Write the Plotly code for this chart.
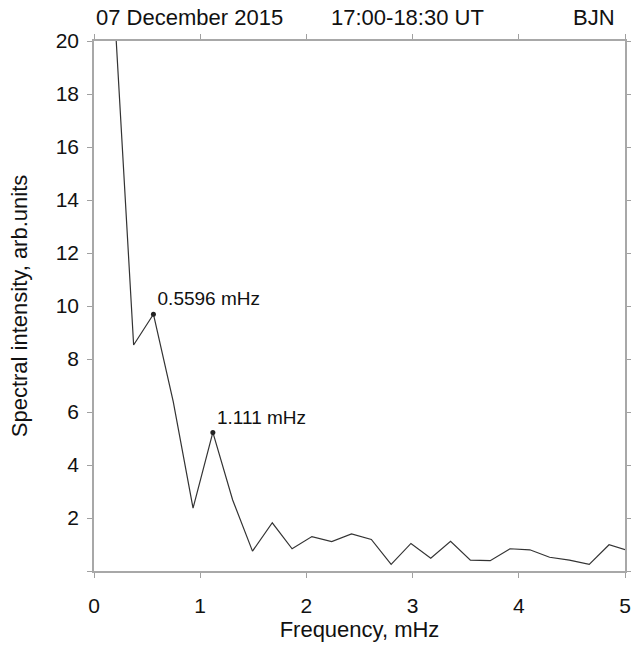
import plotly.graph_objects as go

# Data
step = 0.18653
spectral = [21.6, 8.53, 9.69, 6.39, 2.37, 5.23, 2.68, 0.75, 1.82, 0.84, 1.30, 1.11,
            1.40, 1.19, 0.25, 1.04, 0.48, 1.12, 0.41, 0.39, 0.84, 0.80, 0.52, 0.41,
            0.25, 0.99, 0.76]
freq = [round((i + 1) * step, 5) for i in range(len(spectral))]
peak_freq = [0.5596, 1.1192]
peak_val = [9.69, 5.23]
peak_labels = ["0.5596 mHz", "1.111 mHz"]
x_ticks = [0, 1, 2, 3, 4, 5]
y_ticks = [0, 2, 4, 6, 8, 10, 12, 14, 16, 18, 20]
y_ticktext = ["", "2", "4", "6", "8", "10", "12", "14", "16", "18", "20"]

FONT = "Liberation Sans, Arial, sans-serif"
TXT = "#111111"

fig = go.Figure()
fig.add_trace(go.Scatter(x=freq, y=spectral, mode="lines",
                         line=dict(color="#333333", width=1.2), showlegend=False,
                         cliponaxis=True))
fig.add_trace(go.Scatter(x=peak_freq, y=peak_val, mode="markers+text",
                         marker=dict(color="#222222", size=5),
                         text=peak_labels, textposition="top right",
                         textfont=dict(family=FONT, size=19, color=TXT),
                         showlegend=False, cliponaxis=False))

axis_common = dict(showline=True, linecolor="#a8a8a8", linewidth=1.5, mirror="ticks",
                   ticks="outside", ticklen=5, tickcolor="#a0a0a0", tickwidth=1,
                   showgrid=False, zeroline=False, automargin=False,
                   tickfont=dict(family=FONT, size=21, color=TXT))

fig.update_xaxes(range=[0, 5], tickvals=x_ticks, ticklabelstandoff=10,
                 title=dict(text="Frequency, mHz", font=dict(family=FONT, size=22, color=TXT), standoff=6),
                 **axis_common)
fig.update_yaxes(range=[0, 20], tickvals=y_ticks, ticktext=y_ticktext, ticklabelstandoff=4,
                 title=dict(text="Spectral intensity, arb.units", font=dict(family=FONT, size=22, color=TXT), standoff=22),
                 **axis_common)

for txt, xp, anchor in [("07 December 2015", 0.0, "left"),
                        ("17:00-18:30 UT", 0.442, "left"),
                        ("BJN", 0.985, "right")]:
    fig.add_annotation(text=txt, x=xp, xref="paper", y=1.0, yref="paper",
                       yshift=24, xanchor=anchor, yanchor="middle", showarrow=False,
                       font=dict(family=FONT, size=22, color=TXT))

fig.update_layout(width=631, height=650, plot_bgcolor="white", paper_bgcolor="white",
                  margin=dict(l=94, r=6, t=41, b=79))

fig.write_html("out.html")
